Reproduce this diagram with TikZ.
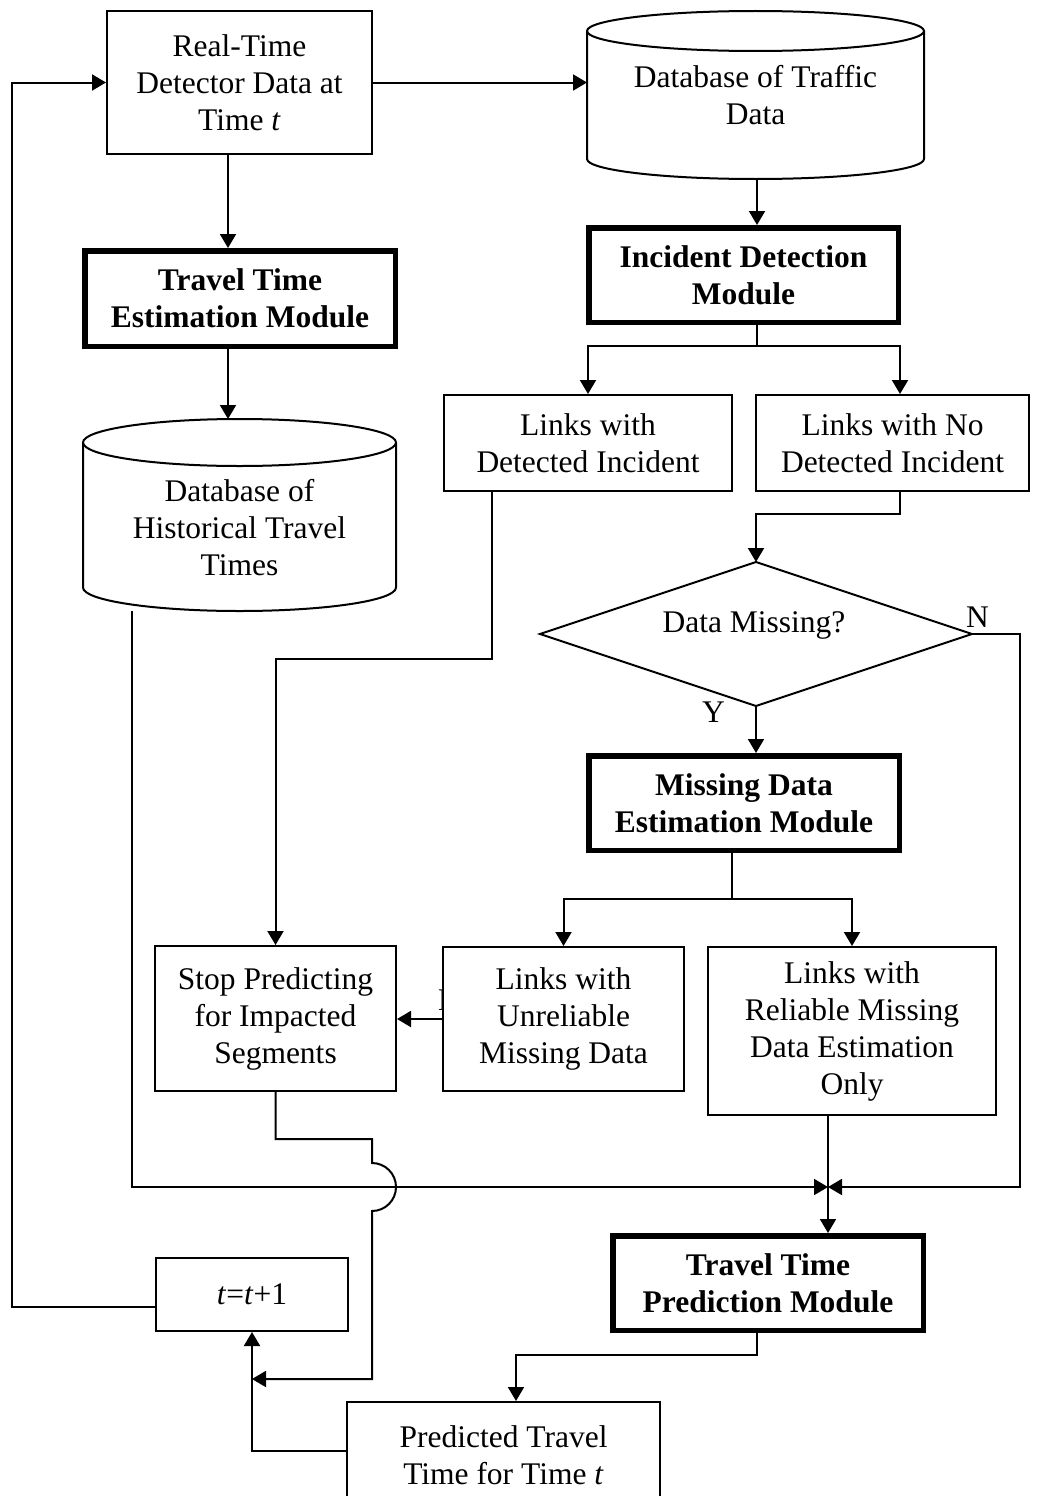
\documentclass[tikz,border=0pt]{standalone}
\usepackage{fontspec}
\setmainfont{Liberation Serif}
\usetikzlibrary{arrows.meta,calc}
\begin{document}
\begin{tikzpicture}[x=1pt,y=-1pt,
  every node/.style={font=\fontsize{31.5pt}{37pt}\selectfont, align=center, inner sep=0pt},
  thinbox/.style={draw, line width=2pt, fill=white},
  thickbox/.style={draw, line width=5.5pt, fill=white,
    font=\fontsize{31.5pt}{37pt}\selectfont\bfseries},
  cylarea/.style={draw=none, outer sep=0pt},
  link/.style={line width=2pt},
  arr/.style={link, -{Triangle[length=14pt,width=16pt]}}
]
\fill[white] (0,0) rectangle (1039,1496);
\useasboundingbox (0,0) rectangle (1039,1496);

% columns and rows used by the off-centre connectors
\coordinate (xa) at (228,0);
\coordinate (xb) at (757,0);
\coordinate (xc) at (900,0);
\coordinate (xe) at (732,0);
\coordinate (xh) at (132,0);
\coordinate (xp) at (516,0);
\coordinate (lp) at (12,0);
\coordinate (j1) at (492,659);
\coordinate (j2) at (900,514);
\coordinate (j3) at (1020,1187);
\coordinate (jm) at (828,1187);
\coordinate (h1) at (372,1163);
\coordinate (h2) at (372,1379);
\coordinate (y5) at (0,1451);
\coordinate (y6) at (0,1307);

% branch label partly hidden under the box drawn after it
\node[anchor=west] (lNu) at (438,1000) {N};

% boxes
\node[thinbox, minimum width=265pt, minimum height=143pt] (rt) at (239.5,82.5)
  {Real-Time\\Detector Data at\\Time \textit{t}};
\node[thickbox, minimum width=310.5pt, minimum height=95.5pt] (est) at (240,298.5)
  {Travel Time\\Estimation Module};
\node[thickbox, minimum width=309.5pt, minimum height=94.5pt] (inc) at (743.5,275)
  {Incident Detection\\Module};
\node[thinbox, minimum width=288pt, minimum height=96pt] (ld) at (588,443)
  {Links with\\Detected Incident};
\node[thinbox, minimum width=273pt, minimum height=96pt] (ln) at (892.5,443)
  {Links with No\\Detected Incident};
\node[thickbox, minimum width=310.5pt, minimum height=94.5pt] (mis) at (744,803)
  {Missing Data\\Estimation Module};
\node[thinbox, minimum width=241pt, minimum height=144pt] (unr) at (563.5,1019)
  {Links with\\Unreliable\\Missing Data};
\node[thinbox, minimum width=288pt, minimum height=168pt] (rel) at (852,1031)
  {Links with\\Reliable Missing\\Data Estimation\\Only};
\node[thinbox, minimum width=241pt, minimum height=145pt] (stop) at (275.5,1018.5)
  {Stop Predicting\\for Impacted\\Segments};
\node[thickbox, minimum width=310.5pt, minimum height=94.5pt] (pred) at (768,1283)
  {Travel Time\\Prediction Module};
\node[thinbox, minimum width=192pt, minimum height=73pt] (tt) at (252,1294.5)
  {\textit{t}=\textit{t}+1};
\node[thinbox, minimum width=313pt, minimum height=106pt] (pt) at (503.5,1455)
  {Predicted Travel\\Time for Time \textit{t}};

% database cylinders
\node[cylarea, minimum width=337pt, minimum height=168pt] (db1) at (755.5,95)
  {Database of Traffic\\Data};
\draw[link] ([yshift=-20pt]db1.north west) -- ([yshift=20pt]db1.south west)
  arc[start angle=180,end angle=360,x radius=168.5pt,y radius=20pt]
  -- ([yshift=-20pt]db1.north east);
\draw[link] ([yshift=-20pt]db1.north) ellipse[x radius=168.5pt,y radius=20pt];

\node[cylarea, minimum width=313pt, minimum height=192pt] (hist) at (239.5,515) {};
\node (histtxt) at (239.5,528) {Database of\\Historical Travel\\Times};
\draw[link] ([yshift=-23.5pt]hist.north west) -- ([yshift=23.5pt]hist.south west)
  arc[start angle=180,end angle=360,x radius=156.5pt,y radius=23.5pt]
  -- ([yshift=-23.5pt]hist.north east);
\draw[link] ([yshift=-23.5pt]hist.north) ellipse[x radius=156.5pt,y radius=23.5pt];

% decision
\node[cylarea, minimum width=432pt, minimum height=144pt] (dm) at (756,634) {};
\draw[link] (dm.west) -- (dm.north) -- (dm.east) -- (dm.south) -- cycle;
\node (dmtext) at (754,625) {Data Missing?};
\node (lN) at (977.5,617) {N};
\node (lY) at (713.5,712.5) {Y};

% connectors
\draw[arr] (rt.east) -- (rt.east -| db1.west);
\draw[arr] (rt.south -| xa) -- (est.north -| xa);
\draw[arr] (est.south -| xa) -- (hist.north -| xa);
\draw[arr] (db1.south -| xb) -- (inc.north -| xb);
\draw[arr] (inc.south -| xb) -- ++(0,21) -| (ld.north);
\draw[arr] (inc.south -| xb) -- ++(0,21) -| (ln.north -| xc);
\draw[arr] (ld.south -| j1) -- (j1) -| (stop.north);
\draw[arr] (ln.south -| j2) -- (j2) -| (dm.north);
\draw[arr] (dm.south) -- (mis.north -| dm.south);
\draw[arr] (dm.east) -| (j3) -- (jm);
\draw[arr] (mis.south -| xe) -- ++(0,46) -| (unr.north);
\draw[arr] (mis.south -| xe) -- ++(0,46) -| (rel.north);
\draw[arr] (unr.west) -- (stop.east |- unr.west);
\draw[arr] (hist.south -| xh) |- (jm);
\draw[link] (rel.south -| jm) -- (jm);
\draw[arr] (jm) -- (pred.north -| jm);
\draw[arr] (stop.south) -- ++(0,47) -| (h1)
  arc[start angle=90,end angle=-90,radius=24pt] -- (h2) -- (h2 -| tt.south);
\draw[arr] (pred.south -| xb) -- ++(0,22) -| (pt.north -| xp);
\draw[arr] (pt.west |- y5) -| (tt.south);
\draw[arr] (tt.west |- y6) -| (lp |- rt.west) -- (rt.west);
\end{tikzpicture}
\end{document}
